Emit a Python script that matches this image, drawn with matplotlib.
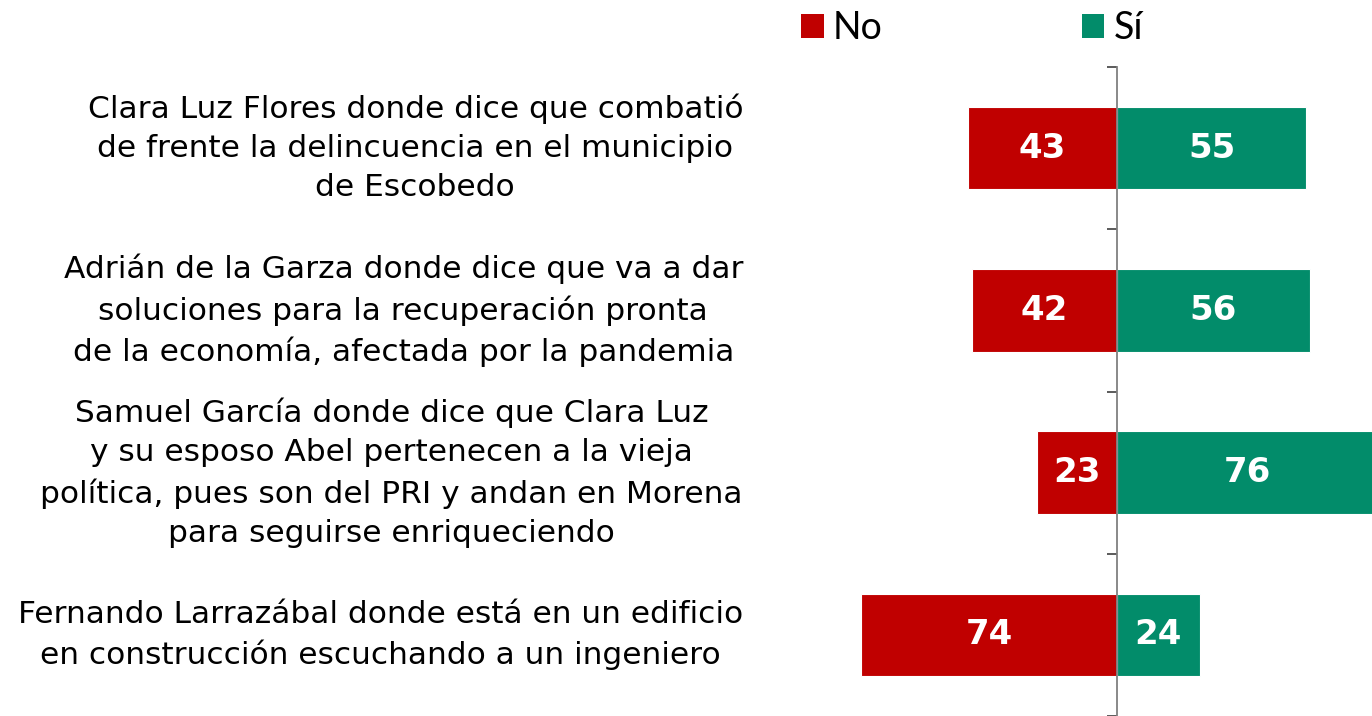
import matplotlib
matplotlib.use("Agg")
import matplotlib.pyplot as plt
import numpy as np

categories = [
    "Clara Luz Flores donde dice que combatió\nde frente la delincuencia en el municipio\nde Escobedo",
    "Adrián de la Garza donde dice que va a dar\nsoluciones para la recuperación pronta\nde la economía, afectada por la pandemia",
    "Samuel García donde dice que Clara Luz\ny su esposo Abel pertenecen a la vieja\npolítica, pues son del PRI y andan en Morena\npara seguirse enriqueciendo",
    "Fernando Larrazábal donde está en un edificio\nen construcción escuchando a un ingeniero",
]
no_vals = [43, 42, 23, 74]
si_vals = [55, 56, 76, 24]
series_names = ["No", "Sí"]

RED = "#C00000"
GREEN = "#028C6A"

W, H = 1372, 716
fig = plt.figure(figsize=(W / 100, H / 100), dpi=100)
ax_left = 858 / W
ax_top = 1 - 67 / H
ax = fig.add_axes([ax_left, 0, 1 - ax_left, ax_top])

y = np.arange(len(categories))
b1 = ax.barh(y, [-v for v in no_vals], height=0.51, color=RED, edgecolor="white", linewidth=0.8, label=series_names[0])
b2 = ax.barh(y, si_vals, height=0.51, color=GREEN, edgecolor="white", linewidth=0.8, label=series_names[1])

for yi, v in zip(y, no_vals):
    ax.text(-v / 2, yi, str(v), ha="center", va="center", color="white",
            fontsize=24.5, fontweight="bold", family="DejaVu Sans")
for yi, v in zip(y, si_vals):
    ax.text(v / 2, yi, str(v), ha="center", va="center", color="white",
            fontsize=24.5, fontweight="bold", family="DejaVu Sans")

ax.set_xlim(-75, 74)
ax.set_ylim(3.5, -0.5)
ax.set_xticks([])
ax.set_yticks([-0.5, 0.5, 1.5, 2.5, 3.5])
ax.set_yticklabels([])
ax.tick_params(axis="y", direction="out", length=7, width=1.2, color="#404040")
for s in ["top", "right", "bottom"]:
    ax.spines[s].set_visible(False)
ax.spines["left"].set_position(("data", 0))
ax.spines["left"].set_color("#808080")
ax.spines["left"].set_linewidth(1.3)
ax.set_zorder(1)

# category labels, right edge at ~742 px
for yi, lab in zip(y, categories):
    yfig = ax_top - (yi + 0.5) / 4 * ax_top
    fig.text(743 / W, yfig, lab, ha="right", va="center", multialignment="center",
             fontsize=22.5, family="DejaVu Sans", color="black", linespacing=1.44)

leg = fig.legend(handles=[b1, b2], labels=series_names, loc="center left",
                 bbox_to_anchor=(801 / W, 1 - 28 / H), ncol=2, frameon=False,
                 handlelength=0.6, handleheight=0.6, handletextpad=0.25,
                 columnspacing=5.3, borderaxespad=0, borderpad=0,
                 prop={"family": "Lato", "size": 27})
for h in leg.legend_handles:
    h.set_edgecolor("none")

fig.savefig("out.png", dpi=100)
